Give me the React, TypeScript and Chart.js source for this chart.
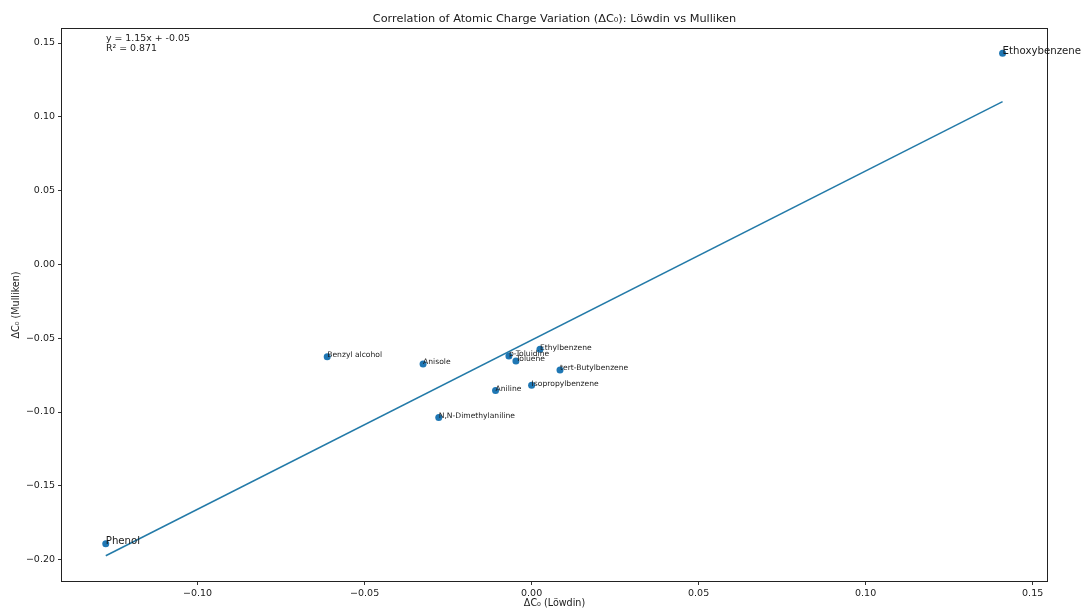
import React, { useEffect, useRef } from "react";
import { Chart, registerables } from "chart.js";

Chart.register(...registerables);

// ---- Data ----
const NAMES = [
  "Phenol",
  "Ethoxybenzene",
  "Benzyl alcohol",
  "Anisole",
  "p-Toluidine",
  "Toluene",
  "Ethylbenzene",
  "tert-Butylbenzene",
  "Isopropylbenzene",
  "Aniline",
  "N,N-Dimethylaniline",
];
const LOWDIN = [-0.1275, 0.141, -0.0612, -0.0325, -0.0068, -0.0047, 0.0025, 0.0085, 0.0, -0.0108, -0.0278];
const MULLIKEN = [-0.1893, 0.1431, -0.0625, -0.0674, -0.062, -0.0654, -0.0575, -0.0715, -0.0818, -0.0855, -0.1038];
const BIG_LABELS = ["Phenol", "Ethoxybenzene"];

const FIT_SLOPE = 1.146;
const FIT_INTERCEPT = -0.0513;
const FIT_TEXT = ["y = 1.15x + -0.05", "R\u00B2 = 0.871"];

const X_TICKS = [-0.1, -0.05, 0.0, 0.05, 0.1, 0.15];
const Y_TICKS = [-0.2, -0.15, -0.1, -0.05, 0.0, 0.05, 0.1, 0.15];
const X_RANGE = [-0.1406, 0.1543];
const Y_RANGE = [-0.2145, 0.1595];

const TITLE = "Correlation of Atomic Charge Variation (\u0394C\u2080): L\u00F6wdin vs Mulliken";
const X_LABEL = "\u0394C\u2080 (L\u00F6wdin)";
const Y_LABEL = "\u0394C\u2080 (Mulliken)";

const FONT = "'DejaVu Sans', sans-serif";
const BLUE = "#1f77b4";
const LINE_BLUE = "#237aa8";
const INK = "#1a1a1a";

const fmt = (v: number) => {
  const s = Math.abs(v).toFixed(2);
  return v < -1e-9 ? "\u2212" + s : s;
};

const framePlugin = {
  id: "frame",
  beforeDatasetsDraw(chart: any) {
    const { ctx, chartArea } = chart;
    const { left, top, right, bottom } = chartArea;
    ctx.save();
    ctx.strokeStyle = "#222";
    ctx.lineWidth = 1;
    ctx.strokeRect(Math.round(left) - 0.5, Math.round(top) - 0.5, Math.round(right - left) + 1, Math.round(bottom - top) + 1);
    ctx.restore();
  },
};

const textPlugin = {
  id: "texts",
  afterDatasetsDraw(chart: any) {
    const { ctx, chartArea, scales } = chart;
    const { left, top, right, bottom } = chartArea;
    const xs = scales.x;
    const ys = scales.y;
    ctx.save();
    ctx.fillStyle = INK;
    // point labels
    ctx.textAlign = "left";
    ctx.textBaseline = "alphabetic";
    NAMES.forEach((name, i) => {
      const px = xs.getPixelForValue(LOWDIN[i]);
      const py = ys.getPixelForValue(MULLIKEN[i]);
      const big = BIG_LABELS.includes(name);
      ctx.font = `${big ? 10.2 : 7.6}px ${FONT}`;
      ctx.fillText(name, px, py + 0.5);
    });
    // title
    const cx = (left + right) / 2;
    ctx.textAlign = "center";
    ctx.textBaseline = "middle";
    ctx.font = `11.3px ${FONT}`;
    ctx.fillText(TITLE, cx, 19);
    // x label
    ctx.font = `9.6px ${FONT}`;
    ctx.fillText(X_LABEL, cx, 603.5);
    // y label
    ctx.save();
    ctx.translate(16, (top + bottom) / 2);
    ctx.rotate(-Math.PI / 2);
    ctx.fillText(Y_LABEL, 0, 0);
    ctx.restore();
    // fit annotation
    ctx.textAlign = "left";
    ctx.textBaseline = "top";
    ctx.font = `9.4px ${FONT}`;
    FIT_TEXT.forEach((t, i) => {
      ctx.fillText(t, left + 44, top + 5 + i * 10);
    });
    ctx.restore();
  },
};

export default function App() {
  const ref = useRef<HTMLCanvasElement | null>(null);
  useEffect(() => {
    if (!ref.current) return;
    const xMin = Math.min(...LOWDIN);
    const xMax = Math.max(...LOWDIN);
    const fitPts = [xMin, xMax].map((x) => ({ x, y: FIT_SLOPE * x + FIT_INTERCEPT }));
    const chart = new Chart(ref.current, {
      type: "scatter",
      data: {
        datasets: [
          {
            type: "scatter",
            data: LOWDIN.map((x, i) => ({ x, y: MULLIKEN[i] })),
            backgroundColor: BLUE,
            borderColor: BLUE,
            borderWidth: 0,
            pointRadius: 3.5,
            order: 1,
          } as any,
          {
            type: "line",
            data: fitPts,
            borderColor: LINE_BLUE,
            borderWidth: 1.5,
            pointRadius: 0,
            showLine: true,
            fill: false,
            tension: 0,
            order: 2,
          } as any,
        ],
      },
      options: {
        animation: false,
        responsive: true,
        maintainAspectRatio: false,
        layout: { padding: { top: 29, right: 35, left: 0, bottom: 0 } },
        plugins: { legend: { display: false }, tooltip: { enabled: false }, title: { display: false } },
        scales: {
          x: {
            type: "linear",
            position: "bottom",
            min: X_RANGE[0],
            max: X_RANGE[1],
            afterBuildTicks: (scale: any) => {
              scale.ticks = X_TICKS.map((v) => ({ value: v }));
            },
            afterFit: (scale: any) => {
              scale.height = 29;
            },
            ticks: {
              callback: (v: any) => fmt(Number(v)),
              font: { family: FONT, size: 9.5 },
              color: INK,
              padding: 3,
              maxRotation: 0,
              autoSkip: false,
            },
            grid: { display: true, drawOnChartArea: false, drawTicks: true, tickLength: 4, tickColor: "#333" },
            border: { display: false },
          },
          y: {
            type: "linear",
            min: Y_RANGE[0],
            max: Y_RANGE[1],
            afterBuildTicks: (scale: any) => {
              scale.ticks = Y_TICKS.map((v) => ({ value: v }));
            },
            afterFit: (scale: any) => {
              scale.width = 62;
            },
            ticks: {
              callback: (v: any) => fmt(Number(v)),
              font: { family: FONT, size: 9.5 },
              color: INK,
              padding: 3,
              autoSkip: false,
            },
            grid: { display: true, drawOnChartArea: false, drawTicks: true, tickLength: 4, tickColor: "#333" },
            border: { display: false },
          },
        },
      } as any,
      plugins: [framePlugin, textPlugin],
    });
    return () => chart.destroy();
  }, []);
  return (
    <div style={{ position: "absolute", left: 0, top: 0, width: 1082, height: 610, background: "#fff" }}>
      <canvas ref={ref} />
    </div>
  );
}
